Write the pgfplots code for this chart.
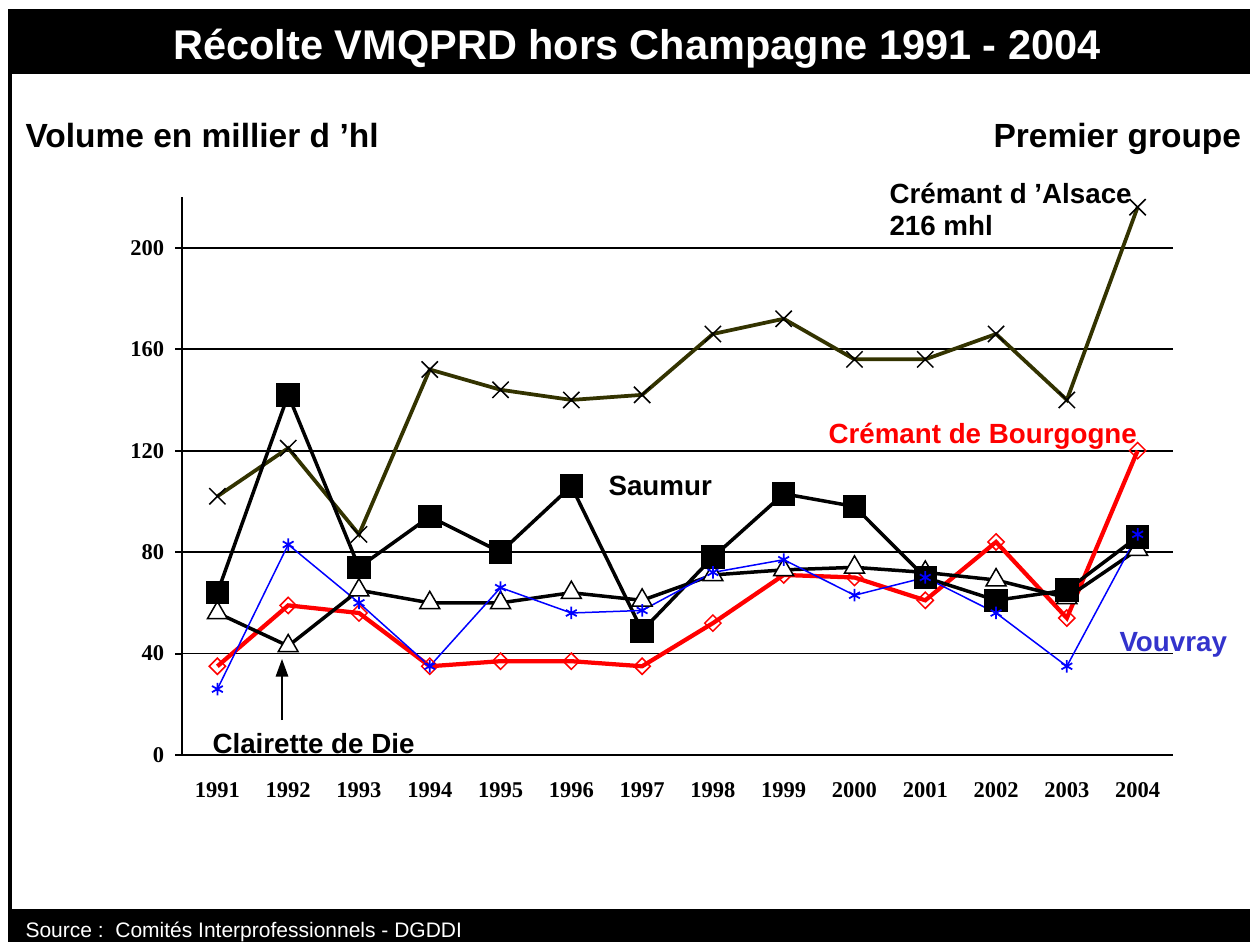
\documentclass[border=0pt]{standalone}
\usepackage{fontspec}
\setmainfont{Liberation Sans}
\newfontfamily\tnr{Liberation Serif}
\usepackage{pgfplots}
\usepackage{pgfplotstable}
\pgfplotsset{compat=1.18}
\usetikzlibrary{arrows.meta}
\definecolor{alsace}{HTML}{333300}
\definecolor{vouvtxt}{HTML}{3333CC}

% volumes in thousands of hl, 1991..2004 at x = 0..13
\pgfplotstableread{
x alsace saumur clairette bourgogne vouvray
0  102  64  56  35  26
1  121 142  43  59  83
2   87  74  65  56  60
3  152  94  60  35  35
4  144  80  60  37  66
5  140 106  64  37  56
6  142  49  61  35  57
7  166  78  71  52  72
8  172 103  73  71  77
9  156  98  74  70  63
10 156  70  72  61  70
11 166  61  69  84  56
12 140  65  62  54  35
13 216  86  81 120  87
}\recolte

\begin{document}
\begin{tikzpicture}
% frame, title bar, source bar (coordinates in pixels of the 1250x942 slide)
\begin{scope}[x=0.4pt,y=-0.4pt]
\useasboundingbox (0,0) rectangle (1250,942);
\fill[black] (8,9) rectangle (1250,74);
\fill[black] (8,74) rectangle (12,909);
\fill[black] (8,909) rectangle (1250,942);
\node[anchor=base, text=white, font=\bfseries\fontsize{16.6}{20}\selectfont, inner sep=0pt]
  at (637,59) {Récolte VMQPRD hors Champagne 1991 - 2004};
\node[anchor=base west, font=\bfseries\fontsize{13.4}{16}\selectfont, inner sep=0pt]
  at (25,147) {Volume en millier d 'hl};
\node[anchor=base west, font=\bfseries\fontsize{13.4}{16}\selectfont, inner sep=0pt]
  at (993,147) {Premier groupe};
\node[anchor=base west, text=white, font=\fontsize{8.4}{10}\selectfont, inner sep=0pt]
  at (25,937) {Source :\ \ Comités Interprofessionnels - DGDDI};
\end{scope}

\begin{axis}[
    at={(72.8pt,-302pt)}, anchor=south west,
    scale only axis, width=396.4pt, height=223.2pt,
    xmin=-0.5, xmax=13.5, ymin=0, ymax=220,
    axis lines*=left,
    axis line style={line width=0.8pt},
    xtick={0,...,13},
    xticklabels={1991,1992,1993,1994,1995,1996,1997,1998,1999,2000,2001,2002,2003,2004},
    major x tick style={draw=none},
    extra x ticks={-0.5,0.5,...,13.5},
    extra x tick labels={},
    extra x tick style={grid=none, major tick length=4pt, tick style={line width=0.8pt, black}},
    ytick={0,40,...,200},
    ymajorgrids,
    grid style={line width=0.7pt, black},
    tick align=outside,
    major tick length=2.8pt,
    tick style={line width=0.8pt, black},
    /pgf/number format/assume math mode=true,
    tick label style={font=\tnr\bfseries\fontsize{9}{10}\selectfont},
    xticklabel style={yshift=-4.8pt},
    yticklabel style={xshift=-0.8pt},
    clip=false,
]
\addplot[alsace, line width=1.5pt, mark=x, mark size=4.6pt,
  mark options={black, line width=0.6pt}] table[x=x, y=alsace] {\recolte};
\addplot[red, line width=1.7pt, mark=square, mark size=2.3pt,
  mark options={red, fill=white, line width=0.6pt, rotate=45}] table[x=x, y=bourgogne] {\recolte};
\addplot[black, line width=1.4pt, mark=triangle*, mark size=4.6pt,
  mark options={black, fill=white, line width=0.6pt}] table[x=x, y=clairette] {\recolte};
\addplot[black, line width=1.4pt, mark=square*, mark size=4pt,
  mark options={black}] table[x=x, y=saumur] {\recolte};
\addplot[blue, line width=0.6pt, mark=asterisk, mark size=2.5pt,
  mark options={blue, line width=0.7pt}] table[x=x, y=vouvray] {\recolte};
\end{axis}

% series labels
\begin{scope}[x=0.4pt,y=-0.4pt]
\begin{scope}[font=\bfseries\fontsize{11.1}{12.8}\selectfont, inner sep=0pt]
\node[anchor=north west, align=left] at (889,183) {Crémant d 'Alsace\\216 mhl};
\node[anchor=base west, text=red] at (828,443) {Crémant de Bourgogne};
\node[anchor=base west] at (608,495) {Saumur};
\node[anchor=base west, text=vouvtxt] at (1119,651) {Vouvray};
\node[anchor=base west] at (212,753) {Clairette de Die};
\end{scope}
\draw[line width=0.5pt, -{Triangle[width=5pt,length=7pt]}] (282,720) -- (282,659);
\end{scope}
\end{tikzpicture}
\end{document}
